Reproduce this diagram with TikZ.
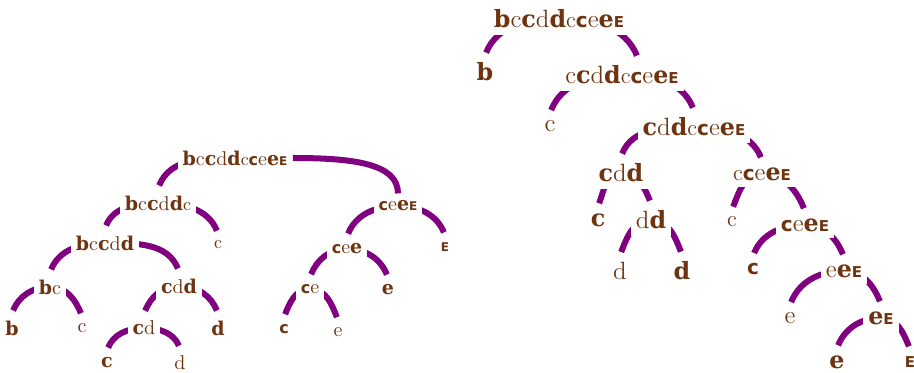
\documentclass[tikz,border=0pt]{standalone}
\usepackage{fontspec}
\usepackage{xcolor}
\usepackage{tikz}
\usetikzlibrary{positioning,backgrounds}

\newfontfamily\heavyfont{DejaVu Serif}
\newfontfamily\widesans{DejaVu Sans}
\definecolor{letterbrown}{RGB}{110,52,16}
\definecolor{arcpurple}{RGB}{128,0,128}

% one macro for each letter of the word
\newcommand{\gbH}{\scalebox{0.95}{\heavyfont\bfseries b}}
\newcommand{\gcR}{c}
\newcommand{\gcH}{\scalebox{0.95}{\heavyfont\bfseries c}}
\newcommand{\gdR}{d}
\newcommand{\gdH}{\scalebox{0.95}{\heavyfont\bfseries d}}
\newcommand{\gcS}{\scalebox{0.9}{c}}
\newcommand{\gcK}{\scalebox{0.8}{\widesans\bfseries c}}
\newcommand{\geR}{e}
\newcommand{\geH}{\scalebox{0.95}{\heavyfont\bfseries e}}
\newcommand{\gEK}{\scalebox{0.6}{\widesans\bfseries E}}

\begin{document}
\begin{tikzpicture}[
    x=0.5pt, y=0.5pt, on grid,
    word/.style={inner xsep=2.5pt, inner ysep=3.5pt, fill=white, text=letterbrown, font=\fontsize{10}{12}\selectfont},
    bigword/.style={word, font=\fontsize{12.5}{15}\selectfont},
    arc/.style={draw=arcpurple, line width=3pt},
    ledge/.style={arc, out=180, in=68, shorten >=1.5pt},
    redge/.style={arc, out=0, in=112, shorten >=1.5pt},
]
    \useasboundingbox (0,0) rectangle (914,-373);

    % Right tree
    \node[bigword] (R0) at (559,-19) {\gbH\gcR\gcH\gdR\gdH\gcS\gcK\geR\geH\gEK};
    \node[bigword, below left=26.5pt and 37pt of R0] (R1) {\gbH};
    \node[bigword, below right=28pt and 31.5pt of R0] (R2) {\gcR\gcH\gdR\gdH\gcS\gcK\geR\geH\gEK};
    \node[bigword, below left=25.5pt and 36pt of R2] (R3) {\gcR};
    \node[bigword, below right=26pt and 36pt of R2] (R4) {\gcH\gdR\gdH\gcS\gcK\geR\geH\gEK};
    \node[bigword, below left=23pt and 36.5pt of R4] (R5) {\gcH\gdR\gdH};
    \node[bigword, below right=23.5pt and 34pt of R4] (R6) {\gcS\gcK\geR\geH\gEK};
    \node[bigword, below left=23.5pt and 11.5pt of R5] (R7) {\gcH};
    \node[bigword, below right=23.5pt and 15pt of R5] (R8) {\gdR\gdH};
    \node[bigword, below left=25.5pt and 15.5pt of R8] (R9) {\gdR};
    \node[bigword, below right=25.5pt and 15.5pt of R8] (R10) {\gdH};
    \node[bigword, below left=24pt and 15pt of R6] (R11) {\gcS};
    \node[bigword, below right=25.5pt and 21.5pt of R6] (R12) {\gcK\geR\geH\gEK};
    \node[bigword, below left=22pt and 26pt of R12] (R13) {\gcK};
    \node[bigword, below right=23pt and 19.5pt of R12] (R14) {\geR\geH\gEK};
    \node[bigword, below left=23.5pt and 27pt of R14] (R15) {\geR};
    \node[bigword, below right=23.5pt and 18.5pt of R14] (R16) {\geH\gEK};
    \node[bigword, below left=22pt and 22pt of R16] (R17) {\geH};
    \node[bigword, below right=22pt and 14.5pt of R16] (R18) {\gEK};

    % Left tree
    \node[word] (L0) at (235,-158) {\gbH\gcR\gcH\gdR\gdH\gcS\gcK\geR\geH\gEK};
    \node[word, below left=22.5pt and 38.5pt of L0] (L1) {\gbH\gcR\gcH\gdR\gdH\gcS};
    \node[word, below right=24pt and 81.5pt of L0] (L2) {\gcK\geR\geH\gEK};
    \node[word, below left=20pt and 26.5pt of L1] (L3) {\gbH\gcR\gcH\gdR\gdH};
    \node[word, below right=21pt and 30pt of L1] (L4) {\gcS};
    \node[word, below left=22pt and 27.5pt of L3] (L5) {\gbH\gcR};
    \node[word, below right=21.5pt and 37pt of L3] (L6) {\gcH\gdR\gdH};
    \node[word, below left=20.5pt and 19pt of L5] (L7) {\gbH};
    \node[word, below right=20.5pt and 16pt of L5] (L8) {\gcR};
    \node[word, below left=21pt and 17.5pt of L6] (L9) {\gcH\gdR};
    \node[word, below right=21pt and 19.5pt of L6] (L10) {\gdH};
    \node[word, below left=17.5pt and 18.5pt of L9] (L11) {\gcH};
    \node[word, below right=17.5pt and 18pt of L9] (L12) {\gdR};
    \node[word, below left=21.5pt and 25.5pt of L2] (L13) {\gcK\geR\geH};
    \node[word, below right=20.5pt and 23.5pt of L2] (L14) {\gEK};
    \node[word, below left=20pt and 18.5pt of L13] (L15) {\gcK\geR};
    \node[word, below right=20.5pt and 20.5pt of L13] (L16) {\geH};
    \node[word, below left=20pt and 13pt of L15] (L17) {\gcK};
    \node[word, below right=21.5pt and 14pt of L15] (L18) {\geR};

    \begin{scope}[on background layer]
    % Arcs of the right tree
    \draw[ledge] (R0.center) to (R1.north);
    \draw[redge] (R0.center) to ([xshift=8pt]R2.north);
    \draw[ledge] (R2.center) to (R3.north);
    \draw[redge] (R2.center) to (R4.north);
    \draw[ledge] (R4.center) to (R5.north);
    \draw[redge] (R4.center) to (R6.north);
    \draw[ledge] (R5.center) to (R7.north);
    \draw[redge] (R5.center) to (R8.north);
    \draw[ledge] (R8.center) to (R9.north);
    \draw[redge] (R8.center) to (R10.north);
    \draw[ledge] (R6.center) to (R11.north);
    \draw[redge] (R6.center) to (R12.north);
    \draw[ledge] (R12.center) to (R13.north);
    \draw[redge] (R12.center) to (R14.north);
    \draw[ledge] (R14.center) to (R15.north);
    \draw[redge] (R14.center) to (R16.north);
    \draw[ledge] (R16.center) to (R17.north);
    \draw[redge] (R16.center) to (R18.north);

    % Arcs of the left tree
    \draw[ledge] (L0.center) to (L1.north);
    \draw[arc] (L0.east) .. controls +(60,0) and +(0,30) .. (L2.north);
    \draw[ledge] (L1.center) to (L3.north);
    \draw[redge] (L1.center) to (L4.north);
    \draw[ledge] (L3.center) to (L5.north);
    \draw[redge] (L3.center) to (L6.north);
    \draw[ledge] (L5.center) to (L7.north);
    \draw[redge] (L5.center) to (L8.north);
    \draw[ledge] (L6.center) to (L9.north);
    \draw[redge] (L6.center) to (L10.north);
    \draw[ledge] (L9.center) to (L11.north);
    \draw[redge] (L9.center) to (L12.north);
    \draw[ledge] (L2.center) to (L13.north);
    \draw[redge] (L2.center) to (L14.north);
    \draw[ledge] (L13.center) to (L15.north);
    \draw[redge] (L13.center) to (L16.north);
    \draw[ledge] (L15.center) to (L17.north);
    \draw[redge] (L15.center) to (L18.north);
    \end{scope}
\end{tikzpicture}
\end{document}
